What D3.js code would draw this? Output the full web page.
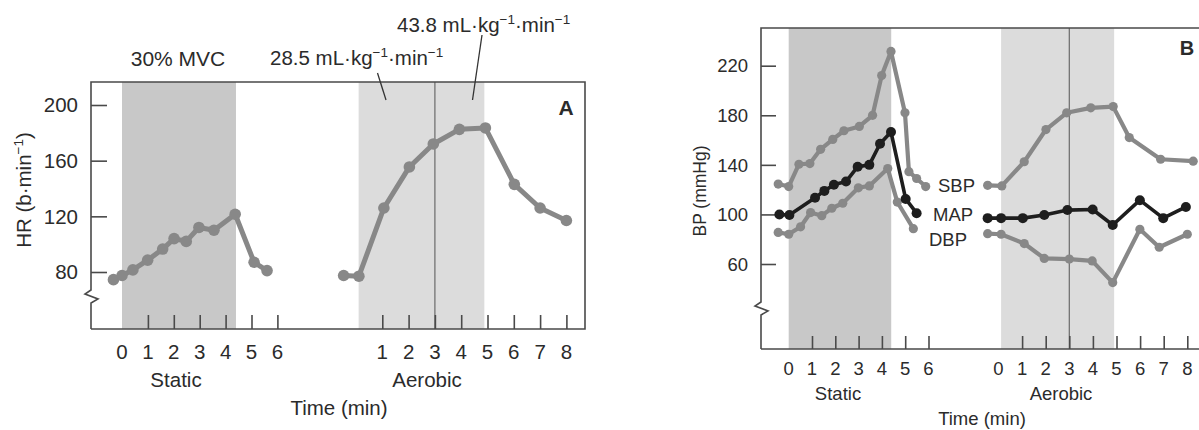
<!DOCTYPE html>
<html>
<head>
<meta charset="utf-8">
<script src="https://cdn.jsdelivr.net/npm/d3@7"></script>
<style>
body{margin:0;background:#fff;}
text{font-family:"Liberation Sans",Arial,sans-serif;fill:#2b2b2b;}
</style>
</head>
<body>
<div id="chart"></div>
<script>
// panel A: heart rate
var staticTimeA=[-0.33,0,0.42,0.99,1.57,2.01,2.48,2.97,3.55,4.37,5.1,5.6];
var staticHR=[74.5,77.5,81.5,88.5,96.5,104,102,112,110,121.5,87,81];
var aerobicTimeA=[-0.47,0.11,1.06,2.03,2.94,3.93,4.92,6.02,7.0,8.0];
var aerobicHR=[77.5,77,126,155.5,172,182.5,183.5,143,126,117];

// panel B: blood pressure
var staticTimeSBP=[-0.45,0,0.44,0.91,1.37,1.89,2.37,3.03,3.6,3.99,4.39,4.99,5.16,5.49,5.88];
var staticSBP=[124.5,122.5,140.5,141,152.5,160.5,167.5,171,180,212,231.5,182,134.5,129,122.5];
var staticTimeMAP=[-0.4,0.03,1.13,1.53,1.94,2.46,2.96,3.46,3.92,4.39,5.02,5.49];
var staticMAP=[100,99.5,113.5,119,124,126.5,138.5,140,157,166.5,112.5,101];
var staticTimeDBP=[-0.45,0,0.51,0.94,1.42,1.85,2.32,2.99,3.46,4.25,4.66,5.35];
var staticDBP=[85.5,84,90,101.5,99,105,109,121.5,123,137,110,88.5];

var aerobicTimeSBP=[-0.46,0.14,1.09,2.01,2.89,3.91,4.86,5.54,6.87,8.25];
var aerobicSBP=[123.5,123,142.5,168.5,182,186,187,162,144.5,143];
var aerobicTimeMAP=[-0.46,0.11,1.03,1.94,2.92,3.99,4.84,5.99,6.98,7.94];
var aerobicMAP=[97,97,97,99.5,103.5,104,91.5,111.5,97,106];
var aerobicTimeDBP=[-0.46,0.11,1.09,1.94,3.0,3.97,4.84,5.99,6.81,8.0];
var aerobicDBP=[84.5,84,76.5,64.5,64,62.5,45,88,73.5,84];

var hrTicks=[80,120,160,200];
var bpTicks=[60,100,140,180,220];
var staticTicks=[0,1,2,3,4,5,6];
var aerobicTicksA=[1,2,3,4,5,6,7,8];
var aerobicTicksB=[0,1,2,3,4,5,6,7,8];
var staticWindow=[0,4.4];
var aerobicWindowA=[0.1,4.88];
var aerobicWindowB=[0.11,4.9];

var grey="#888888", dark="#1e1e1e", axisCol="#4a4a4a";

var svg=d3.select("#chart").append("svg")
    .attr("width",1199).attr("height",430);

function zip(ts,vs){
    return ts.map(function(t,i){return {t:t,v:vs[i]}});
}

function addSeries(g,data,x,y,color,w,r){
    var line=d3.line().x(function(d){return x(d.t)}).y(function(d){return y(d.v)});
    g.append("path").datum(data)
        .attr("d",line)
        .attr("fill","none")
        .attr("stroke",color)
        .attr("stroke-width",w)
        .attr("stroke-linejoin","round");
    g.selectAll(null).data(data).enter()
        .append("circle")
        .attr("cx",function(d){return x(d.t)})
        .attr("cy",function(d){return y(d.v)})
        .attr("r",r)
        .attr("fill",color);
}

function addText(g,x,y,parts,size,anchor,extra){
    var t=g.append("text").attr("x",x).attr("y",y)
        .attr("font-size",size)
        .attr("text-anchor",anchor||"start");
    if(extra) t.attr("transform",extra);
    if(typeof parts=="string"){ t.text(parts); return t }
    var up=false;
    parts.forEach(function(p){
        var sup=p[1];
        var s=t.append("tspan").text(p[0]);
        if(sup){ s.attr("font-size",size*0.66).attr("dy",up?0:-size*0.4); up=true }
        else { if(up) s.attr("dy",size*0.4); up=false }
    });
    return t;
}

function drawPanel(c){
    var g=svg.append("g");
    var xs=d3.scaleLinear().domain([0,6]).range(c.xStaticRange);
    var xa=d3.scaleLinear().domain([0,8]).range(c.xAerRange);
    var y=d3.scaleLinear().domain(c.yDomain).range(c.yRange);

    // shaded exercise windows
    g.append("rect").attr("x",xs(staticWindow[0])).attr("y",c.top)
        .attr("width",xs(staticWindow[1])-xs(staticWindow[0])).attr("height",c.bottom-c.top)
        .attr("fill","#c8c8c8");
    g.append("rect").attr("x",xa(c.aerWindow[0])).attr("y",c.top)
        .attr("width",xa(c.aerWindow[1])-xa(c.aerWindow[0])).attr("height",c.bottom-c.top)
        .attr("fill","#dcdcdc");
    g.append("line").attr("x1",xa(3)).attr("x2",xa(3))
        .attr("y1",c.top).attr("y2",c.bottom)
        .attr("stroke","#6a6a6a").attr("stroke-width",1.2);

    // frame with axis break
    var fr="M"+c.left+","+c.bottom+"V"+(c.brk+13)+"L"+(c.left+7)+","+(c.brk+9)+"L"+(c.left-6)+","+(c.brk+4)
        +"L"+c.left+","+c.brk+"V"+c.top+"H"+c.right;
    if(c.rightBorder) fr+="V"+c.bottom+"H"+c.left; else fr+="M"+c.left+","+c.bottom+"H"+c.right;
    g.append("path").attr("d",fr).attr("fill","none")
        .attr("stroke",axisCol).attr("stroke-width",1.6);

    // y axis
    var yAxis=d3.axisRight(y).tickValues(c.yTicks).tickSize(c.yTickLen).tickFormat("");
    var ya=g.append("g").attr("transform","translate("+c.left+",0)").call(yAxis);
    ya.select(".domain").remove();
    ya.selectAll("line").attr("stroke",axisCol).attr("stroke-width",1.6);
    g.selectAll(null).data(c.yTicks).enter().append("text")
        .attr("x",c.left-13).attr("y",function(d){return y(d)})
        .attr("dy","0.36em").attr("text-anchor","end")
        .attr("font-size",c.font).text(function(d){return d});

    // x ticks (inward) and labels
    function xTicks(scale,vals,labels){
        var ax=d3.axisTop(scale).tickValues(vals).tickSize(c.xTickLen).tickFormat("");
        var gx=g.append("g").attr("transform","translate(0,"+c.bottom+")").call(ax);
        gx.select(".domain").remove();
        gx.selectAll("line").attr("stroke",axisCol).attr("stroke-width",1.6);
        g.selectAll(null).data(labels).enter().append("text")
            .attr("x",function(d){return scale(d)}).attr("y",c.tickBase)
            .attr("text-anchor","middle").attr("font-size",c.font)
            .text(function(d){return d});
    }
    xTicks(xs,staticTicks.slice(1),staticTicks);
    xTicks(xa,aerobicTicksA,c.aerLabels);

    addText(g,c.staticLabelX,c.groupBase,"Static",c.font,"middle");
    addText(g,c.aerLabelX,c.groupBase,"Aerobic",c.font,"middle");
    addText(g,c.timeX,c.timeBase,"Time (min)",c.font,"middle");
    addText(g,0,0,c.yTitle,c.yTitleFont,"middle","translate("+c.yTitleX+","+c.yTitleY+") rotate(-90)");
    g.append("text").attr("x",c.letterX).attr("y",c.letterY).attr("text-anchor","middle")
        .attr("font-size",c.letterFont).attr("font-weight","bold").attr("fill","#111").text(c.letter);

    return {g:g,xs:xs,xa:xa,y:y};
}

// ---- panel A
var A=drawPanel({left:91,right:585,top:82,bottom:329,brk:290,rightBorder:true,
    xStaticRange:[122,277.4],xAerRange:[356,566.4],aerWindow:aerobicWindowA,
    yDomain:[80,200],yRange:[272,105],yTicks:hrTicks,yTickLen:16,xTickLen:14,
    font:20.5,tickBase:359,groupBase:387,timeBase:415,aerLabels:aerobicTicksA,
    staticLabelX:176,aerLabelX:427,timeX:339,
    yTitle:[["HR (b·min"],["−1",true],[")"]],yTitleFont:20.5,yTitleX:31,yTitleY:190,
    letter:"A",letterX:566,letterY:115,letterFont:21});
addSeries(A.g,zip(staticTimeA,staticHR),A.xs,A.y,grey,5,5.8);
addSeries(A.g,zip(aerobicTimeA,aerobicHR),A.xa,A.y,grey,5,5.8);

addText(A.g,178,66,"30% MVC",21,"middle");
addText(A.g,270,65,[["28.5 mL·kg"],["−1",true],["·min"],["−1",true]],20.5,"start");
addText(A.g,397,32,[["43.8 mL·kg"],["−1",true],["·min"],["−1",true]],20.5,"start");
A.g.append("line").attr("x1",377.5).attr("y1",73).attr("x2",386).attr("y2",100)
    .attr("stroke","#333").attr("stroke-width",1.3);
A.g.append("line").attr("x1",482).attr("y1",35).attr("x2",472.5).attr("y2",100)
    .attr("stroke","#333").attr("stroke-width",1.3);

// ---- panel B
var B=drawPanel({left:761,right:1199,top:28,bottom:349,brk:302,rightBorder:false,
    xStaticRange:[788.7,928.5],xAerRange:[998.5,1187.3],aerWindow:aerobicWindowB,
    yDomain:[60,220],yRange:[264,65.7],yTicks:bpTicks,yTickLen:15,xTickLen:13,
    font:18.5,tickBase:375,groupBase:400,timeBase:425,aerLabels:aerobicTicksB,
    staticLabelX:838,aerLabelX:1061,timeX:982,
    yTitle:"BP (mmHg)",yTitleFont:17.5,yTitleX:706,yTitleY:191,
    letter:"B",letterX:1187,letterY:55,letterFont:20});
addSeries(B.g,zip(staticTimeSBP,staticSBP),B.xs,B.y,grey,4.2,4.6);
addSeries(B.g,zip(staticTimeDBP,staticDBP),B.xs,B.y,grey,4.2,4.6);
addSeries(B.g,zip(staticTimeMAP,staticMAP),B.xs,B.y,dark,3.6,5);
addSeries(B.g,zip(aerobicTimeSBP,aerobicSBP),B.xa,B.y,grey,4.2,4.6);
addSeries(B.g,zip(aerobicTimeDBP,aerobicDBP),B.xa,B.y,grey,4.2,4.6);
addSeries(B.g,zip(aerobicTimeMAP,aerobicMAP),B.xa,B.y,dark,3.6,5);

addText(B.g,938,192,"SBP",18.5,"start");
addText(B.g,933,221,"MAP",18.5,"start");
addText(B.g,929,246,"DBP",18.5,"start");
</script>
</body>
</html>
